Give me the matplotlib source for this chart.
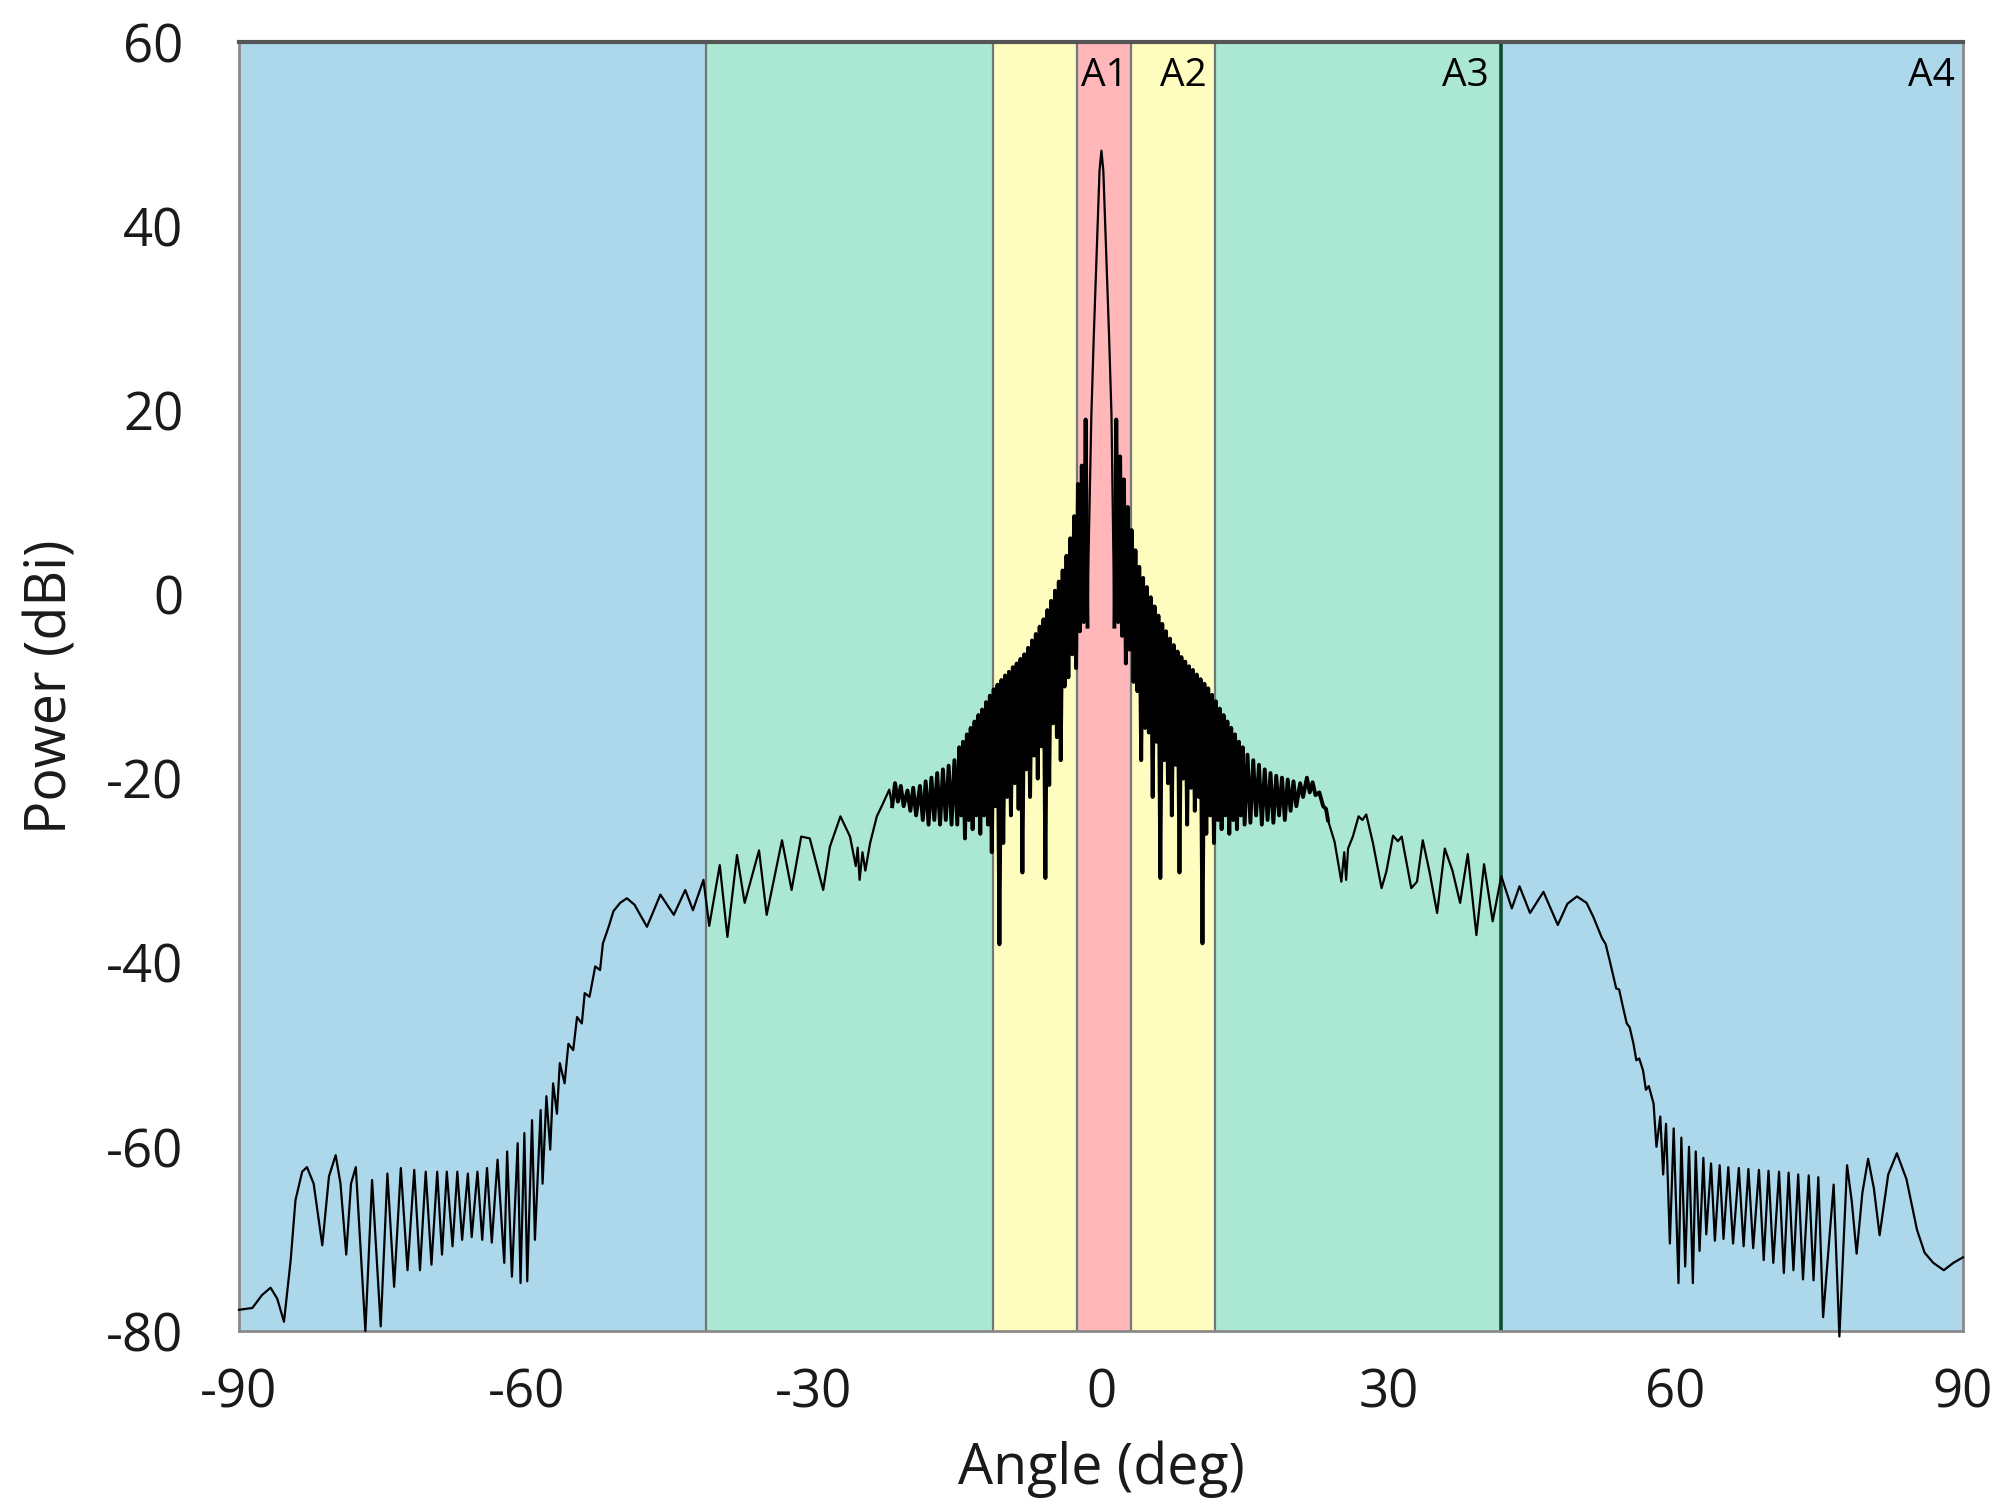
import matplotlib.pyplot as plt

plt.rcParams['font.family'] = ['Open Sans', 'DejaVu Sans']
plt.rcParams['axes.unicode_minus'] = False

# angular regions (deg) and their fill colours, left to right
band_edges = [-90, -41.2, -11.3, -2.5, 3.1, 11.95, 41.75, 90]
band_colors = ['#add8eb', '#abe8d4', '#fefcbf', '#ffb7ba', '#fefcbf', '#abe8d4', '#add8eb']
region_names = ['A1', 'A2', 'A3', 'A4']

x_ticks = [-90, -60, -30, 0, 30, 60, 90]
y_ticks = [-80, -60, -40, -20, 0, 20, 40, 60]

# antenna pattern, split into pieces from -90 to 90 deg
far_left_deg = [-90.0, -88.6, -87.6, -86.7, -86.0, -85.3, -84.6, -84.1, -83.4, -82.9,
                -82.2, -81.3, -80.6, -79.9, -79.4, -78.8, -78.3, -77.8, -76.8, -76.1,
                -75.2, -74.5, -73.8, -73.1, -72.4, -71.7, -71.1, -70.5, -69.9, -69.3,
                -68.8, -68.3, -67.7, -67.2, -66.7, -66.1, -65.7, -65.1, -64.6, -64.1,
                -63.6, -63.0, -62.3, -62.0, -61.5, -60.9, -60.6, -60.2, -59.9, -59.4,
                -59.1, -58.5, -58.3, -57.9, -57.5]
far_left_dbi = [-77.7, -77.5, -76.1, -75.3, -76.5, -79.0, -72.3, -65.8, -62.7, -62.2,
                -64.0, -70.7, -63.2, -60.9, -64.0, -71.7, -64.0, -62.2, -80.0, -63.6,
                -79.5, -62.9, -75.2, -62.3, -73.4, -62.5, -73.4, -62.7, -72.8, -62.7,
                -71.7, -62.7, -70.8, -62.7, -70.1, -62.9, -69.8, -62.7, -70.1, -62.3,
                -70.4, -61.4, -72.6, -60.5, -74.1, -59.6, -74.8, -58.5, -74.6, -57.1,
                -70.1, -56.0, -64.0, -54.5, -60.3]

ramp_left_deg = [-57.2, -56.8, -56.5, -56.0, -55.6, -55.1, -54.7, -54.2, -53.9, -53.4,
                 -52.8, -52.3, -52.0, -51.4, -50.9, -50.2]
ramp_left_dbi = [-53.1, -56.4, -50.9, -53.1, -48.8, -49.5, -45.9, -46.6, -43.3, -43.7,
                 -40.4, -40.8, -37.9, -36.1, -34.4, -33.5]

shoulder_left_deg = [-49.5, -48.7, -47.4, -46.0, -44.6, -43.4, -42.6, -41.5, -40.9, -39.8,
                     -39.0, -38.0, -37.2, -35.7, -34.9, -33.3, -32.3, -31.3, -30.4, -29.0,
                     -28.3, -27.2, -26.2, -25.6, -25.4, -25.2, -24.9, -24.6, -24.1, -23.4,
                     -22.8, -22.1]
shoulder_left_dbi = [-33.0, -33.7, -36.1, -32.6, -34.8, -32.1, -34.3, -31.0, -36.0, -29.4,
                     -37.2, -28.3, -33.5, -27.8, -34.8, -26.7, -32.1, -26.3, -26.5, -32.1,
                     -27.4, -24.1, -26.3, -29.5, -27.5, -31.0, -28.0, -30.0, -27.0, -24.1,
                     -22.8, -21.2]

near_left_deg = [-21.8, -21.5, -21.2, -20.9, -20.6, -20.2, -19.9, -19.6, -19.3, -18.9,
                 -18.6, -18.3, -18.0, -17.7, -17.4, -17.1, -16.8, -16.5, -16.2, -15.9,
                 -15.6, -15.3]
near_left_dbi = [-23.0, -20.5, -22.5, -20.8, -23.0, -21.3, -23.5, -21.0, -24.0, -20.8,
                 -24.5, -20.3, -25.0, -19.9, -24.5, -19.4, -25.0, -19.0, -24.5, -18.6,
                 -25.0, -18.0]

core_left_deg = [-15.0, -14.8, -14.6, -14.4, -14.2, -14.0, -13.8, -13.6, -13.4, -13.2,
                 -13.0, -12.8, -12.6, -12.4, -12.2, -12.0, -11.8, -11.6, -11.4, -11.2,
                 -11.0, -10.8, -10.6, -10.4, -10.2, -10.0, -9.8, -9.6, -9.4, -9.2,
                 -9.0, -8.8, -8.6, -8.4, -8.2, -8.0, -7.8, -7.6, -7.4, -7.2,
                 -7.0, -6.8, -6.6, -6.4, -6.2, -6.0, -5.8, -5.6, -5.4, -5.2,
                 -5.0, -4.8, -4.6, -4.4, -4.2, -4.0, -3.8, -3.6, -3.4, -3.2,
                 -3.0, -2.8, -2.6, -2.4, -2.2, -2.0, -1.8, -1.6, -1.4]
core_left_dbi = [-25.0, -16.6, -24.0, -16.0, -26.5, -15.2, -24.5, -14.5, -25.5, -13.8,
                 -24.0, -13.1, -26.0, -12.5, -24.0, -11.7, -25.0, -11.0, -28.0, -10.3,
                 -23.0, -9.8, -38.0, -9.3, -27.0, -8.8, -22.0, -8.4, -24.0, -7.9,
                 -20.5, -7.5, -23.3, -7.0, -30.2, -6.5, -19.0, -5.8, -22.0, -5.0,
                 -17.5, -4.3, -20.0, -3.5, -16.5, -2.7, -30.8, -1.7, -20.7, -0.7,
                 -14.0, 0.4, -15.5, 1.4, -18.0, 2.6, -10.0, 4.2, -9.0, 6.1,
                 -6.5, 8.5, -8.0, 12.0, -4.0, 14.0, -3.0, 19.0, -3.5]

main_lobe_deg = [-1.3, -1.15, -1.0, -0.75, -0.5, -0.3, -0.15, 0.05, 0.25, 0.4,
                 0.6, 0.85, 1.1, 1.3]
main_lobe_dbi = [4.0, 12.0, 19.5, 28.0, 35.5, 41.5, 46.0, 48.2, 46.0, 41.5,
                 35.5, 28.0, 19.5, 4.0]

core_right_deg = [1.4, 1.6, 1.8, 2.0, 2.2, 2.4, 2.6, 2.8, 3.0, 3.2,
                  3.4, 3.6, 3.8, 4.0, 4.2, 4.4, 4.6, 4.8, 5.0, 5.2,
                  5.4, 5.6, 5.8, 6.0, 6.2, 6.4, 6.6, 6.8, 7.0, 7.2,
                  7.4, 7.6, 7.8, 8.0, 8.2, 8.4, 8.6, 8.8, 9.0, 9.2,
                  9.4, 9.6, 9.8, 10.0, 10.2, 10.4, 10.6, 10.8, 11.0, 11.2,
                  11.4, 11.6, 11.8, 12.0, 12.2, 12.4, 12.6, 12.8, 13.0, 13.2,
                  13.4, 13.6, 13.8, 14.0, 14.2, 14.4, 14.6, 14.8, 15.0]
core_right_dbi = [-3.5, 19.0, -3.0, 15.0, -4.5, 12.5, -7.5, 9.5, -6.0, 7.0,
                  -9.5, 4.8, -10.5, 3.0, -18.0, 1.8, -14.5, 0.8, -15.0, -0.3,
                  -22.0, -1.3, -16.0, -2.3, -30.8, -3.2, -18.0, -4.0, -20.5, -4.8,
                  -24.0, -5.5, -18.5, -6.2, -30.2, -6.8, -20.0, -7.3, -25.0, -7.8,
                  -21.0, -8.2, -23.5, -8.7, -22.0, -9.2, -37.9, -9.7, -26.0, -10.2,
                  -24.0, -10.9, -27.0, -11.6, -24.5, -12.4, -25.5, -13.1, -24.0, -13.8,
                  -26.0, -14.5, -24.5, -15.2, -25.5, -16.0, -24.0, -16.6, -25.0]

near_right_deg = [15.3, 15.6, 15.9, 16.2, 16.5, 16.8, 17.1, 17.4, 17.7, 18.0,
                  18.3, 18.6, 18.9, 19.2, 19.5, 19.8, 20.1, 20.4, 20.8, 21.1,
                  21.5, 21.8, 22.1, 22.4, 22.8, 23.2, 23.5, 23.7]
near_right_dbi = [-17.4, -24.8, -18.0, -24.0, -18.5, -25.0, -19.0, -24.5, -19.4, -24.8,
                  -19.7, -24.0, -19.9, -24.5, -20.1, -23.5, -20.3, -23.0, -20.5, -22.0,
                  -19.9, -21.5, -20.4, -21.8, -21.5, -23.0, -23.3, -24.5]

shoulder_right_deg = [24.4, 25.1, 25.4, 25.6, 25.8, 26.3, 26.9, 27.3, 27.7, 28.4,
                      29.3, 29.8, 30.5, 31.0, 31.4, 32.4, 33.0, 33.6, 34.3, 35.1,
                      35.9, 36.7, 37.5, 38.3, 39.2, 40.0, 40.9, 41.8, 42.9, 43.7,
                      44.8, 46.2, 47.7, 48.7, 49.7, 50.7]
shoulder_right_dbi = [-26.9, -31.2, -28.0, -31.0, -27.6, -26.3, -24.1, -24.5, -23.9, -27.0,
                      -31.9, -30.1, -26.2, -26.8, -26.3, -31.9, -31.2, -26.7, -30.1, -34.6,
                      -27.6, -30.0, -33.5, -28.2, -37.0, -29.3, -35.5, -30.6, -34.1, -31.7,
                      -34.6, -32.3, -35.9, -33.6, -32.8, -33.5]

ramp_right_deg = [51.4, 52.3, 52.7, 53.1, 53.5, 53.8, 54.1, 54.5, 54.9, 55.2,
                  55.6, 55.9, 56.2, 56.6, 56.9, 57.2]
ramp_right_dbi = [-35.0, -37.3, -38.0, -39.7, -41.5, -42.8, -42.9, -44.8, -46.6, -47.0,
                  -48.8, -50.6, -50.4, -51.7, -53.8, -53.4]

far_right_deg = [57.7, 58.0, 58.4, 58.7, 59.0, 59.4, 59.8, 60.3, 60.6, 61.0,
                 61.4, 61.8, 62.1, 62.5, 62.9, 63.2, 63.7, 64.1, 64.6, 65.0,
                 65.5, 66.0, 66.6, 67.1, 67.6, 68.1, 68.7, 69.2, 69.7, 70.2,
                 70.8, 71.3, 71.8, 72.3, 72.8, 73.3, 73.9, 74.4, 74.9, 75.4,
                 76.5, 77.1, 77.9, 78.4, 78.9, 79.5, 80.1, 80.7, 81.3, 82.2,
                 83.1, 84.1, 85.2, 86.0, 86.9, 88.0, 89.0, 90.0]
far_right_dbi = [-55.3, -60.0, -56.7, -63.0, -57.5, -70.5, -58.0, -74.8, -59.0, -73.0,
                 -60.0, -74.8, -60.5, -71.3, -61.2, -69.5, -61.8, -70.2, -62.0, -70.0,
                 -62.2, -70.5, -62.3, -70.8, -62.4, -71.0, -62.5, -72.3, -62.6, -72.6,
                 -62.7, -73.7, -62.8, -73.4, -63.0, -74.4, -63.1, -74.5, -63.3, -78.5,
                 -64.1, -80.6, -62.0, -66.0, -71.6, -65.0, -61.3, -64.5, -69.6, -63.0,
                 -60.7, -63.5, -69.0, -71.5, -72.6, -73.4, -72.6, -72.0]

angle = (far_left_deg + ramp_left_deg + shoulder_left_deg + near_left_deg + core_left_deg
         + main_lobe_deg + core_right_deg + near_right_deg + shoulder_right_deg
         + ramp_right_deg + far_right_deg)
power = (far_left_dbi + ramp_left_dbi + shoulder_left_dbi + near_left_dbi + core_left_dbi
         + main_lobe_dbi + core_right_dbi + near_right_dbi + shoulder_right_dbi
         + ramp_right_dbi + far_right_dbi)

fig = plt.figure(figsize=(20.03, 15.07), dpi=100)
ax = fig.add_axes([0.1193, 0.1168, 0.8607, 0.8553])

# coloured regions and their borders
for left, right, col in zip(band_edges[:-1], band_edges[1:], band_colors):
    ax.axvspan(left, right, color=col, lw=0, zorder=0)
for edge in band_edges[1:-1]:
    if edge == 41.75:
        ax.axvline(edge, color='#0f4a30', lw=2.6, zorder=1)
    else:
        ax.axvline(edge, color='#6f7a76', lw=1.6, zorder=1)

ax.plot(angle, power, color='black', lw=1.6, zorder=3, clip_on=False)
# the side lobes close to boresight are so dense they print almost solid
ax.plot(near_left_deg + core_left_deg, near_left_dbi + core_left_dbi,
        color='black', lw=2.8, zorder=3)
ax.plot(core_right_deg + near_right_deg, core_right_dbi + near_right_dbi,
        color='black', lw=2.8, zorder=3)

# region names sit at the top right of each region
label_right = [2.8, 11.0, 40.5, 89.2]
for name, xr in zip(region_names, label_right):
    ax.text(xr, 56.3, name, ha='right', va='center', fontsize=28, zorder=4)

ax.set_xlim(-90, 90)
ax.set_ylim(-80, 60)
ax.set_xticks(x_ticks)
ax.set_yticks(y_ticks)
ax.tick_params(length=0, labelsize=38, colors='#1a1a1a')
ax.tick_params(axis='x', pad=26)
ax.tick_params(axis='y', pad=40)

for side in ['left', 'right', 'bottom']:
    ax.spines[side].set_color('#8a8a8a')
    ax.spines[side].set_linewidth(2)
ax.spines['top'].set_color('#555555')
ax.spines['top'].set_linewidth(3)

ax.set_xlabel('Angle (deg)', fontsize=40, color='#1a1a1a')
ax.set_ylabel('Power (dBi)', fontsize=40, color='#1a1a1a')
ax.xaxis.set_label_coords(0.5, -0.085)
ax.yaxis.set_label_coords(-0.092, 0.5)

fig.savefig('out.png', dpi=100)
